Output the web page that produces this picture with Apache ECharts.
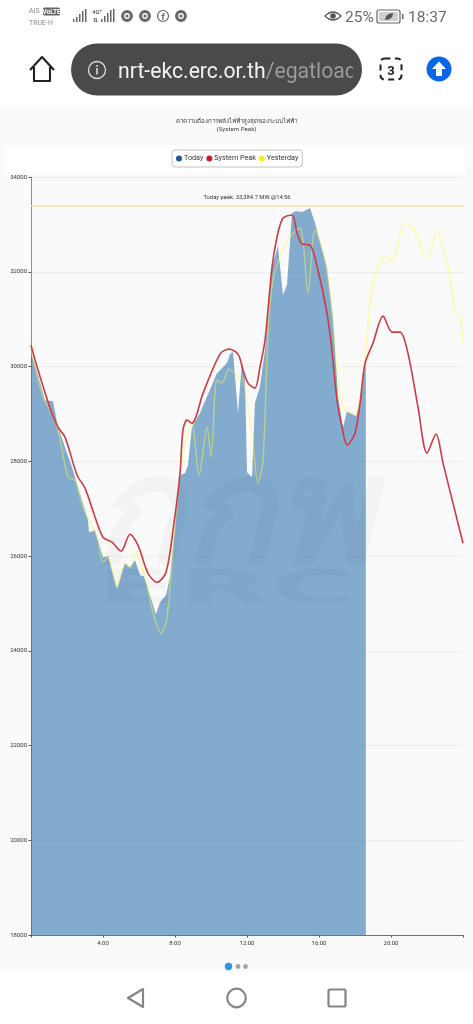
<!DOCTYPE html>
<html><head><meta charset="utf-8">
<script src="https://cdn.jsdelivr.net/npm/echarts@6/dist/echarts.min.js"></script>
<style>
html,body{margin:0;padding:0;background:#fff;width:473px;height:1024px;overflow:hidden;font-family:Roboto,"Noto Sans",sans-serif}
#panel{position:absolute;left:0;top:107px;width:473px;height:865px;background:#fafafa}
#band{position:absolute;left:5px;top:145px;width:460px;height:28px;background:#fff}
#main{position:absolute;left:0;top:0;width:473px;height:1024px}
#ui{position:absolute;left:0;top:0}
</style></head><body>
<div id="panel"></div><div id="band"></div>
<div id="main"></div>
<svg id="ui" width="473" height="1024" viewBox="0 0 473 1024" font-family="Roboto, 'Noto Sans', sans-serif" style="pointer-events:none">
  <text x="29" y="13" font-size="7" fill="#8a8a8a">AIS</text>
  <rect x="43" y="7.5" width="17" height="8" rx="1.5" fill="#666"/>
  <text x="51.5" y="14" font-size="6.5" font-weight="700" fill="#fff" text-anchor="middle">VoLTE</text>
  <text x="29" y="25" font-size="7" fill="#8a8a8a">TRUE-H</text>
  <g fill="#666">
    <rect x="73" y="19" width="1.5" height="3"/><rect x="76" y="17" width="1.5" height="5"/><rect x="79" y="14" width="1.5" height="8"/><rect x="82" y="11" width="1.5" height="11"/><rect x="85" y="9" width="1.5" height="13"/>
    <rect x="101" y="19" width="1.5" height="3"/><rect x="104" y="16" width="1.5" height="6"/><rect x="107" y="13" width="1.5" height="9"/><rect x="110" y="10" width="1.5" height="12"/><rect x="113" y="9" width="1.5" height="13"/>
  </g>
  <text x="92" y="14" font-size="6" font-weight="700" fill="#666">4G⁺</text>
  <text x="93" y="22" font-size="6" font-weight="700" fill="#666">⇅</text>
  <g fill="none" stroke="#666" stroke-width="3">
    <circle cx="127" cy="16" r="4.4"/><circle cx="145" cy="16" r="4.4"/><circle cx="181" cy="16" r="4.4"/>
  </g>
  <g fill="#666"><circle cx="127" cy="16" r="1.6"/><circle cx="145" cy="16" r="1.6"/><circle cx="181" cy="16" r="1.6"/></g>
  <circle cx="163" cy="16" r="5.5" fill="none" stroke="#666" stroke-width="1.2"/>
  <text x="163" y="20" font-size="9" font-weight="700" fill="#666" text-anchor="middle">f</text>
  <path d="M325 16q8-8 16 0q-8 8-16 0z" fill="none" stroke="#555" stroke-width="1.3"/><circle cx="333" cy="16" r="2.8" fill="#555"/>
  <text x="345" y="22" font-size="15.5" fill="#6a6a6a">25%</text>
  <rect x="377" y="10" width="23" height="13" rx="2" fill="none" stroke="#666" stroke-width="1.2"/>
  <rect x="379" y="12" width="19" height="9" rx="1" fill="#cfcfcf"/>
  <path d="M385 20q0-6 8-7q0 7-8 7z" fill="#555"/>
  <rect x="402" y="14" width="1.5" height="5" fill="#666"/>
  <text x="408" y="22" font-size="15.5" fill="#6a6a6a">18:37</text>

  <path d="M30 70L42 57L54 70M34 67V81H50V67" fill="none" stroke="#222" stroke-width="2.1" stroke-linejoin="round"/>
  <rect x="71" y="43.5" width="291" height="52" rx="26" fill="#4a4a4a"/>
  <circle cx="97" cy="70" r="8.5" fill="none" stroke="#ddd" stroke-width="1.3"/>
  <rect x="96.2" y="68" width="1.6" height="6.5" fill="#ddd"/><rect x="96.2" y="65" width="1.6" height="1.7" fill="#ddd"/>
  <clipPath id="urlclip"><rect x="110" y="44" width="243" height="52"/></clipPath>
  <text x="118" y="78" font-size="21.2" fill="#f2f2f2" clip-path="url(#urlclip)">nrt-ekc.erc.or.th<tspan fill="#9a9a9a">/egatload</tspan></text>
  <rect x="380.5" y="58.5" width="21" height="21" rx="4" fill="none" stroke="#222" stroke-width="2" stroke-dasharray="6 4.4"/>
  <text x="391" y="74.5" font-size="13" font-weight="700" fill="#222" text-anchor="middle">3</text>
  <circle cx="439" cy="69" r="12.5" fill="#0a66e8"/>
  <path d="M439 61.5L446 69H442V76H436V69H432Z" fill="#fff"/>

  <circle cx="228.5" cy="966.5" r="3.7" fill="#2f93e6"/><circle cx="238" cy="966.5" r="2.4" fill="#a3a3a3"/><circle cx="245.5" cy="966.5" r="2.4" fill="#a3a3a3"/>
  <path d="M143 989L128 998L143 1007Z" fill="none" stroke="#858585" stroke-width="2.2" stroke-linejoin="round"/>
  <circle cx="236.5" cy="998" r="9.3" fill="none" stroke="#858585" stroke-width="2.2"/>
  <rect x="328.5" y="989.5" width="17" height="17" rx="1.5" fill="none" stroke="#858585" stroke-width="2.2"/>
</svg>
<script>
const titleText = 'ค่าความต้องการพลังไฟฟ้าสูงสุดของระบบไฟฟ้า\n(System Peak)';
const peakLabel = 'Today peak: 33,384.7 MW @14:56';
const peakValue = 33384.7;
const seriesNames = ['Today', 'System Peak', 'Yesterday'];

const todayHours = [0,.78,1.22,1.5,2.28,3.17,3.22,3.56,4,4.28,4.78,5.22,5.5,5.78,6.06,6.28,6.94,7.17,7.5,7.72,8.28,8.56,8.72,8.94,9.39,10.33,10.89,11.06,11.22,11.5,11.72,11.89,12,12.28,12.44,12.72,13,13.39,13.72,14,14.22,14.5,14.72,15.06,15.5,15.78,16.44,16.78,17.06,17.33,17.56,18.06,18.28,18.6];
const todayValues = [30346,29290,29269,28720,27875,26756,26502,26545,25974,25996,25320,25848,25763,25911,25594,25573,24771,25024,25172,25552,27706,27748,27917,28720,29016,29860,30072,30262,30304,29016,30093,29713,27770,27664,29227,29565,30346,32099,32543,31508,31719,33240,33282,33261,33345,33028,32099,31043,29354,28720,29058,28952,29290,30072];

const peakHours = [0,.39,1.06,1.5,1.89,2.56,3,3.56,4,4.5,5,5.5,5.94,6.5,7,7.5,7.89,8.28,8.44,8.67,8.94,9.56,10.5,11,11.5,11.78,12.06,12.44,12.72,13,13.39,13.67,14,14.5,14.78,15.06,15.5,15.94,16.44,16.72,17,17.28,17.56,18,18.28,18.56,19,19.56,20.06,20.5,20.94,21.5,22,22.5,22.89,24];
const peakValues = [30452,29924,29121,28720,28509,27706,27432,26819,26397,26291,26101,26460,26228,25636,25446,25658,26545,27748,28657,28868,28804,29438,30262,30367,30262,29924,29649,29544,29987,30557,32099,32733,33134,33197,32817,32585,32564,32036,31128,30346,29290,28720,28340,28593,29227,30072,30494,31064,30726,30726,30283,29142,28171,28572,27960,26270];

const yesterdayHours = [0,.67,1.06,1.5,2.06,2.44,2.89,3.67,4,4.28,4.78,5.22,5.5,5.78,6.33,6.78,7.22,7.56,7.89,8.28,8.61,8.94,9.33,9.78,10,10.33,10.61,11,11.5,11.78,12.28,12.61,12.89,13.17,13.44,13.83,14.39,14.94,15.39,15.78,16.33,16.72,17.17,17.56,18,18.44,19,19.67,20.06,20.78,21.22,22,22.56,22.83,23.28,23.56,23.83,24];
const yesterdayValues = [30346,29354,29079,28657,27664,27601,27030,26397,25869,25974,25341,25848,25763,26080,25552,24792,24369,24707,26186,27748,28445,28804,27706,28720,28086,29713,29649,29945,29776,29713,28593,27537,28023,30705,31825,32310,32733,32923,31550,32881,32247,31191,29354,29037,29016,29776,31761,32310,32226,33028,32923,32289,32860,32606,31888,31149,31043,30494];

const pairs = (xs, ys) => xs.map((x, i) => [x, ys[i]]);
const chart = echarts.init(document.getElementById('main'), null, {renderer: 'canvas', width: 473, height: 1024});
const FONT = 'Roboto, "Noto Sans", "DejaVu Sans", sans-serif';
chart.setOption({
  animation: false,
  backgroundColor: 'transparent',
  textStyle: {fontFamily: FONT},
  title: {
    text: titleText, left: 'center', top: 117.5, padding: 0,
    textStyle: {fontSize: 6.2, lineHeight: 8, fontWeight: 'normal', color: '#444', align: 'center', fontFamily: FONT}
  },
  legend: {
    data: seriesNames, left: 172, top: 150, orient: 'horizontal',
    icon: 'circle', itemWidth: 6, itemHeight: 6, itemGap: 3,
    padding: [5, 4, 5, 4], borderColor: '#c4c4c4', borderWidth: 1, borderRadius: 3,
    backgroundColor: '#fff',
    textStyle: {fontSize: 7.2, color: '#333', padding: [0, 0, 0, -3]}
  },
  grid: {left: 31, right: 10, top: 177, bottom: 89, containLabel: false},
  xAxis: {
    type: 'value', min: 0, max: 24, interval: 4,
    axisLine: {show: true, onZero: false, lineStyle: {color: '#6b7280', width: 1}},
    axisTick: {show: true, length: 2.5, lineStyle: {color: '#555'}},
    splitLine: {show: false},
    axisLabel: {fontSize: 6, color: '#333', margin: 5, formatter: v => (v === 0 || v === 24) ? '' : v + ':00'}
  },
  yAxis: {
    type: 'value', min: 18000, max: 34000, interval: 2000,
    axisLine: {show: true, lineStyle: {color: '#8a8f96', width: 1}},
    axisTick: {show: true, length: 2.5, lineStyle: {color: '#555'}},
    splitLine: {show: true, lineStyle: {color: '#ededed', width: 1}},
    axisLabel: {fontSize: 6, color: '#333', margin: 4, formatter: v => String(v)}
  },
  graphic: [
    {type: 'text', z: 50, silent: true, left: 92, top: 445, style: {text: 'กกพ', fontSize: 150, fontStyle: 'italic', fontWeight: 'bold', fontFamily: '"Noto Sans", "DejaVu Sans", sans-serif', fill: 'rgba(60,60,60,0.035)'}},
    {type: 'text', z: 50, silent: true, left: 96, top: 568, style: {text: 'ERC', fontSize: 46, fontWeight: 'bold', fontFamily: '"DejaVu Sans", sans-serif', fill: 'rgba(60,60,60,0.035)'}, scaleX: 2.6}
  ],
  series: [
    {
      name: seriesNames[0], type: 'line', z: 1, data: pairs(todayHours, todayValues),
      showSymbol: false, smooth: false, silent: true,
      itemStyle: {color: '#1f5a96'},
      lineStyle: {width: 0},
      areaStyle: {color: '#1f6aaa', opacity: 0.55},
      markLine: {
        silent: true, symbol: 'none', animation: false,
        lineStyle: {color: '#f7dfa8', width: 1.6, type: 'solid'},
        label: {show: true, position: 'insideMiddleTop', formatter: peakLabel, fontSize: 5.8, color: '#333', distance: 5.5},
        data: [{yAxis: peakValue}]
      }
    },
    {
      name: seriesNames[2], type: 'line', z: 2, data: pairs(yesterdayHours, yesterdayValues),
      showSymbol: false, smooth: 0.3, silent: true,
      itemStyle: {color: '#f1ee2a'},
      lineStyle: {color: 'rgba(255,252,60,0.42)', width: 1.5}
    },
    {
      name: seriesNames[1], type: 'line', z: 3, data: pairs(peakHours, peakValues),
      showSymbol: false, smooth: 0.3, silent: true,
      itemStyle: {color: '#cf1a22'},
      lineStyle: {color: '#cf3a44', width: 1.6}
    }
  ]
});
</script>
</body></html>
